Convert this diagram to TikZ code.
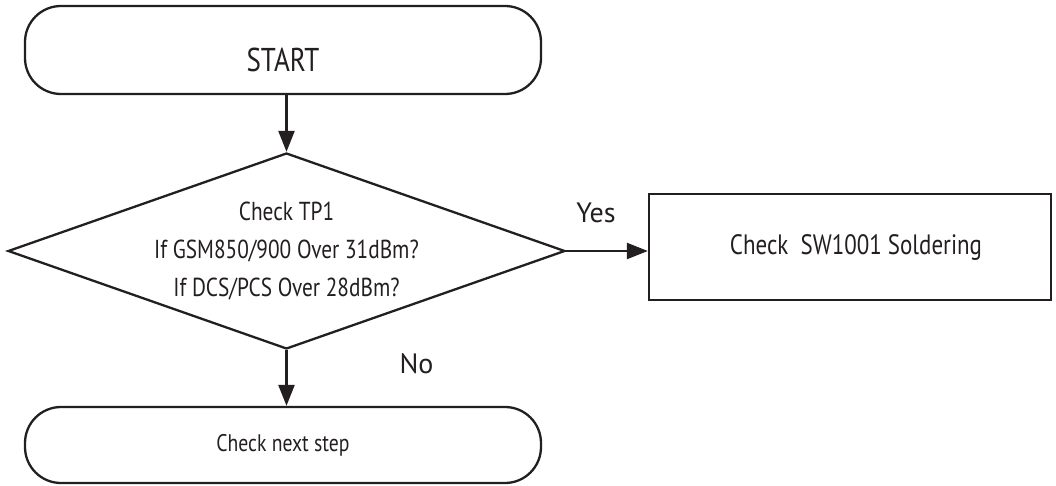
\documentclass[tikz,border=0pt]{standalone}
\usepackage{fontspec}
\setmainfont{PT Sans}
\newfontfamily\condfont[FakeStretch=0.82]{PT Sans}
\usetikzlibrary{shapes.geometric,arrows.meta}
\definecolor{ink}{HTML}{231F20}
\begin{document}
\begin{tikzpicture}[x=1pt,y=-1pt,
  line/.style={line width=2.3pt,draw=ink},
  term/.style={line,rounded corners=36pt,minimum width=516pt,inner sep=0pt,text=ink},
  arr/.style={line,-{Triangle[length=21pt,width=16pt]}},
  cond/.style={text=ink,font=\condfont\fontsize{#1}{#1}\selectfont},
  reg/.style={text=ink,font=\fontsize{#1}{#1}\selectfont}]
\useasboundingbox (0,0) rectangle (1056,486);
\node[term,minimum height=88pt,cond=33,text height=43pt,text depth=0pt] (start) at (283,50) {START};
\node[line,diamond,aspect=2.84,minimum width=557pt,minimum height=196pt,inner sep=0pt,
  align=center,text=ink,font=\condfont\fontsize{26}{38}\selectfont] (dec) at (286.5,251) {Check TP1\\If GSM850/900 Over 31dBm?\\If DCS/PCS Over 28dBm?};
\node[line,rectangle,minimum width=402pt,minimum height=106pt,inner sep=0pt,cond=28] (sw) at (850,247) {\hspace{12pt}Check\ \ SW1001 Soldering};
\node[term,minimum height=76pt,cond=24] (next) at (283,445) {Check next step};
\draw[arr] (start.south -| dec.north) -- (dec.north);
\draw[arr] (dec.east) -- (dec.east -| sw.west);
\draw[arr] (dec.south) -- (dec.south |- next.north);
\node[reg=28] (yes) at (596,213) {Yes};
\node[reg=28] (no) at (416.5,364) {No};
\end{tikzpicture}
\end{document}
